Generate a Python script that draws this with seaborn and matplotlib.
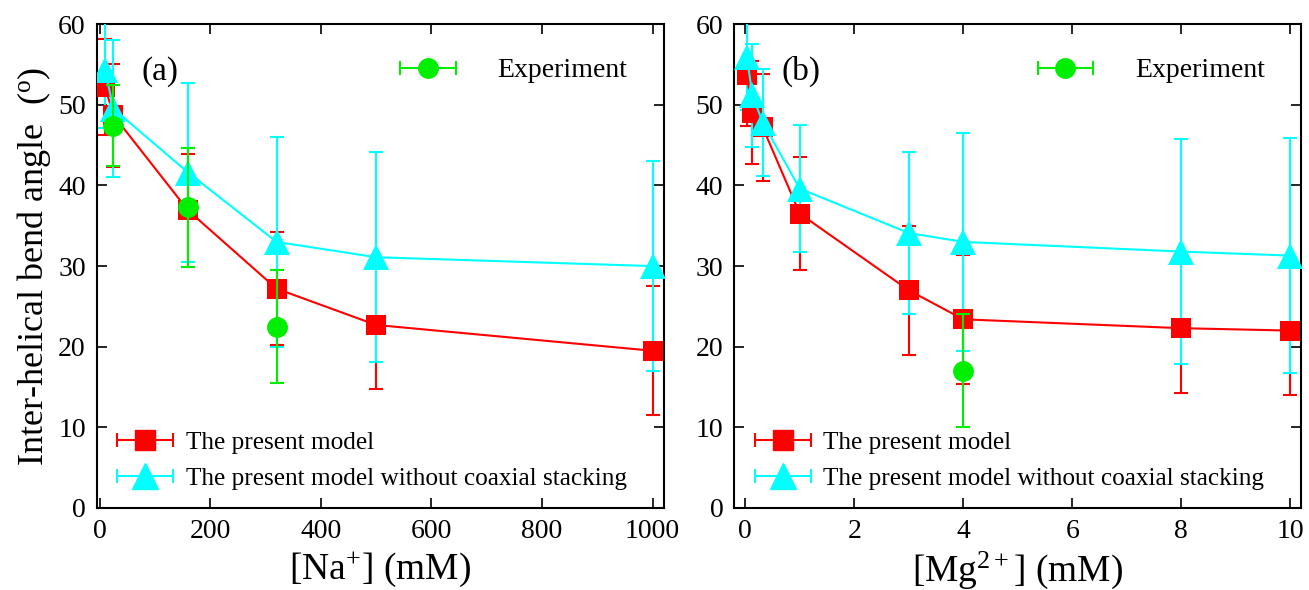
import numpy as np
import pandas as pd
import matplotlib
matplotlib.use("Agg")
import matplotlib.pyplot as plt
from matplotlib.container import ErrorbarContainer
from matplotlib.legend_handler import HandlerErrorbar
import seaborn as sns

# panel (a): Na+ (mM)
na_x = [10, 25, 160, 320, 500, 1000]
na_model = [52.2, 48.7, 36.9, 27.2, 22.7, 19.5]
na_model_err = [6.0, 6.4, 7.0, 7.0, 8.0, 8.0]
na_nostack = [54.3, 49.5, 41.6, 33.0, 31.1, 30.0]
na_nostack_err = [7.2, 8.5, 11.1, 13.0, 13.0, 13.0]
na_exp_x = [25, 160, 320]
na_exp = [47.4, 37.3, 22.5]
na_exp_err = [5.0, 7.4, 7.0]

# panel (b): Mg2+ (mM)
mg_x = [0.03, 0.13, 0.32, 1, 3, 4, 8, 10]
mg_model = [53.7, 49.0, 47.2, 36.5, 27.0, 23.4, 22.3, 22.0]
mg_model_err = [6.3, 6.4, 6.6, 7.0, 8.0, 8.0, 8.0, 8.0]
mg_nostack = [55.9, 51.2, 47.8, 39.6, 34.1, 33.0, 31.8, 31.3]
mg_nostack_err = [6.5, 6.4, 6.6, 7.9, 10.0, 13.5, 13.9, 14.6]
mg_exp_x = [4]
mg_exp = [17.0]
mg_exp_err = [7.0]

sns.set_style("ticks")
plt.rcParams['font.family'] = ['Liberation Serif', 'DejaVu Serif']
plt.rcParams['mathtext.fontset'] = 'custom'
plt.rcParams['mathtext.rm'] = 'Liberation Serif'
plt.rcParams['mathtext.it'] = 'Liberation Serif:italic'
for k in ['text.color', 'axes.labelcolor', 'xtick.color', 'ytick.color']:
    plt.rcParams[k] = 'black'

red, cyan, green = "#ff0000", "#00ffff", "#00ee00"

fig, axes = plt.subplots(1, 2, figsize=(13.09, 5.9), dpi=100)
fig.subplots_adjust(left=0.074, right=0.994, bottom=0.139, top=0.959, wspace=0.125)


def draw(ax, x, model, model_err, nostack, nostack_err, ex, exp, exp_err):
    df = pd.DataFrame({"x": x, "model": model, "nostack": nostack})
    # error bars first, then lines + markers on top
    ax.errorbar(x, model, yerr=model_err, fmt="none", ecolor=red, elinewidth=1.5,
                capsize=5, capthick=1.5, zorder=2)
    ax.errorbar(x, nostack, yerr=nostack_err, fmt="none", ecolor=cyan, elinewidth=1.5,
                capsize=5, capthick=1.5, zorder=3)
    sns.lineplot(data=df, x="x", y="model", ax=ax, color=red, marker="s", markersize=14,
                 markeredgewidth=0, linewidth=1.5, zorder=4, legend=False)
    sns.lineplot(data=df, x="x", y="nostack", ax=ax, color=cyan, marker="^", markersize=19,
                 markeredgewidth=0, linewidth=1.5, zorder=5, legend=False)
    ax.errorbar(ex, exp, yerr=exp_err, fmt="o", color=green, markersize=14, ecolor=green,
                elinewidth=1.5, capsize=5, capthick=1.5, zorder=6)

    # legend handles (horizontal bars with caps)
    h_exp = ax.errorbar([np.nan], [np.nan], xerr=[1], fmt="o", color=green, markersize=14,
                        elinewidth=1.5, capsize=5, capthick=1.5)
    h_mod = ax.errorbar([np.nan], [np.nan], xerr=[1], fmt="s", color=red, markersize=14,
                        elinewidth=1.5, capsize=5, capthick=1.5)
    h_ns = ax.errorbar([np.nan], [np.nan], xerr=[1], fmt="^", color=cyan, markersize=19,
                       elinewidth=1.5, capsize=5, capthick=1.5)
    leg1 = ax.legend([h_exp], ["Experiment"], loc="upper right", frameon=False, fontsize=20,
                     handlelength=2.0, handletextpad=1.5, borderaxespad=0.2,
                     handler_map={ErrorbarContainer: HandlerErrorbar(xerr_size=1.0)},
                     bbox_to_anchor=(0.965, 0.965))
    ax.add_artist(leg1)
    ax.legend([h_mod, h_ns], ["The present model", "The present model without coaxial stacking"],
              loc="lower left", frameon=False, fontsize=18.2, handlelength=2.2,
              handletextpad=0.5, labelspacing=0.55, borderaxespad=0.3,
              handler_map={ErrorbarContainer: HandlerErrorbar(xerr_size=1.1)},
              bbox_to_anchor=(0.005, 0.0))

    ax.set_ylim(0, 60)
    ax.set_yticks(range(0, 61, 10))
    ax.tick_params(direction="in", top=True, right=True, labelsize=20, length=7, width=1.2,
                   pad=8)
    for s in ax.spines.values():
        s.set_linewidth(1.5)
        s.set_color("black")


ax = axes[0]
draw(ax, na_x, na_model, na_model_err, na_nostack, na_nostack_err, na_exp_x, na_exp, na_exp_err)
ax.set_xlim(-5, 1020)
ax.set_xticks(range(0, 1001, 200))
ax.set_xlabel("[Na$^{+}$] (mM)", fontsize=27, labelpad=4)
ax.set_ylabel("Inter-helical bend angle  ($^{\\mathrm{o}}$)", fontsize=26, labelpad=4)
ax.text(0.079, 0.885, "(a)", transform=ax.transAxes, fontsize=24)

ax = axes[1]
draw(ax, mg_x, mg_model, mg_model_err, mg_nostack, mg_nostack_err, mg_exp_x, mg_exp, mg_exp_err)
ax.set_xlim(-0.2, 10.2)
ax.set_xticks(range(0, 11, 2))
ax.set_xlabel("[Mg$^{2+}$] (mM)", fontsize=27, labelpad=4)
ax.set_ylabel("")
ax.text(0.083, 0.885, "(b)", transform=ax.transAxes, fontsize=24)

fig.savefig("out.png", dpi=100)
